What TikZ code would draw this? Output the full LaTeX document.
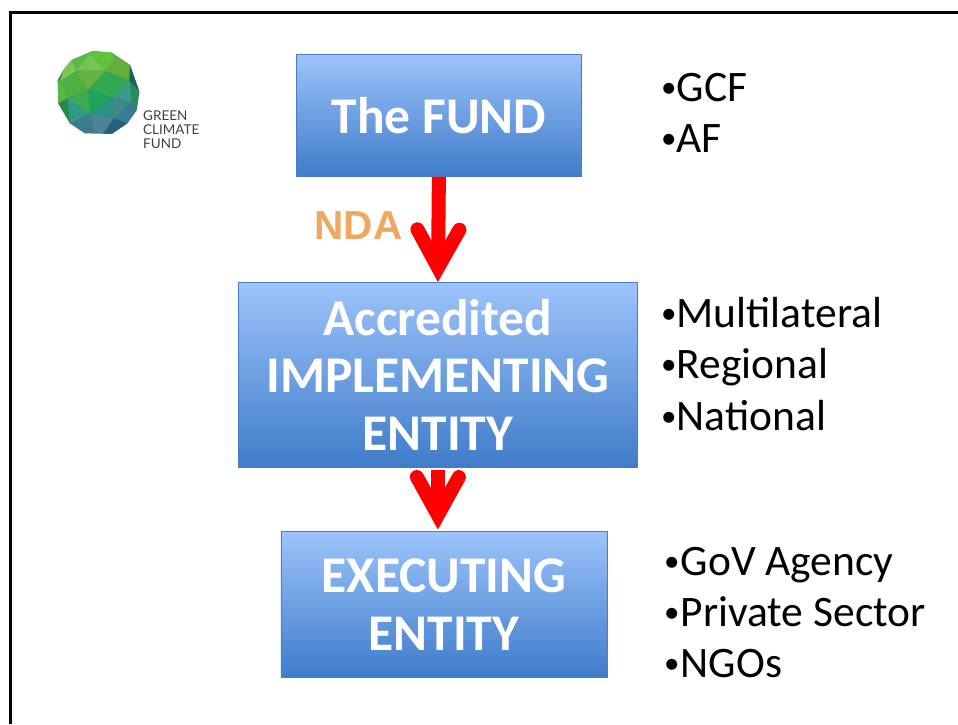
\documentclass[tikz,border=0pt]{standalone}
\usepackage{fontspec}
\setmainfont{Carlito}
\newfontfamily\ndafont{Liberation Sans}
\newfontfamily\logofont{Lato}
\usetikzlibrary{arrows.meta}
\definecolor{boxtop}{HTML}{9DC3FB}
\definecolor{boxbot}{HTML}{3F7CC9}
\definecolor{boxline}{HTML}{4A7EBB}
\tikzset{
 fundbox/.style={rectangle,draw=boxline,line width=0.8pt,top color=boxtop,bottom color=boxbot,
   text=white,font=\bfseries\fontsize{51.5}{57.5}\selectfont,align=center,inner sep=0pt,anchor=north west},
 redarrow/.style={draw=red,line width=14pt,-{Straight Barb[length=38pt,width=42pt,line cap=round,line join=miter,line width=14pt]}},
 bullet/.style={anchor=base west,inner sep=0pt,font=\fontsize{43.5}{48}\selectfont,text=black}
}
\newcommand{\fct}[2]{\definecolor{fc}{HTML}{#1}\fill[fc] #2 -- cycle;}
\newcommand{\bul}[1]{\makebox[#1][l]{\raisebox{3.5pt}{\fontsize{31}{31}\selectfont •}}}
\begin{document}
\begin{tikzpicture}[x=1pt,y=-1pt]
\useasboundingbox (0,0) rectangle (958,724);
\fill[white] (0,0) rectangle (958,724);
\draw[black,line width=3pt] (10,724) -- (10,12) -- (958,12);
% logo
\begin{scope}[shift={(40,30)},x=0.3333pt,y=-0.3333pt]
\fct{3A8A6A}{(158,63)--(215,68)--(270,105)--(298,185)--(290,240)--(262,280)--(215,312)--(135,310)--(90,280)--(55,220)--(53,150)--(70,120)--(95,90)}
\fct{58B947}{(95,90)--(158,63)--(150,72)--(110,122)}
\fct{76C551}{(150,72)--(110,122)--(197,122)}
\fct{60C13B}{(158,63)--(215,68)--(225,85)--(197,122)--(150,72)}
\fct{62AE3E}{(215,68)--(270,105)--(268,152)--(197,122)--(225,85)}
\fct{0C6A55}{(270,105)--(298,185)--(268,152)}
\fct{78C653}{(70,120)--(95,90)--(110,122)--(60,155)}
\fct{4FB043}{(60,155)--(110,122)--(145,178)--(82,205)}
\fct{68B23F}{(110,122)--(197,122)--(145,178)}
\fct{31A94F}{(197,122)--(268,152)--(218,202)--(145,178)}
\fct{5EB644}{(53,150)--(60,155)--(82,205)--(55,220)}
\fct{3FA852}{(82,205)--(145,178)--(150,252)}
\fct{1FA35A}{(145,178)--(218,202)--(150,252)}
\fct{3B9B8F}{(268,152)--(275,215)--(218,202)}
\fct{2B8A5A}{(268,152)--(298,185)--(290,240)--(275,215)}
\fct{278A3E}{(82,205)--(55,220)--(90,280)}
\fct{2F9A86}{(82,205)--(150,252)--(90,280)}
\fct{2B9283}{(218,202)--(150,252)--(222,265)}
\fct{3F8A86}{(218,202)--(275,215)--(222,265)}
\fct{3A7A94}{(275,215)--(290,240)--(262,280)--(222,265)}
\fct{3C7A90}{(90,280)--(150,252)--(165,305)--(135,310)}
\fct{4A8496}{(150,252)--(222,265)--(190,310)--(165,305)}
\fct{25607F}{(222,265)--(262,280)--(215,312)--(190,310)}
\end{scope}
\node[anchor=north west,inner sep=0pt,font=\logofont\fontsize{13.5}{14}\selectfont,text=black!75,align=left] (logotext) at (143,110.5) {GREEN\\CLIMATE\\FUND};
% boxes
\node[fundbox,minimum width=285pt,minimum height=122pt] (fund) at (296,54) {The FUND};
\node[fundbox,minimum width=399pt,minimum height=185pt] (impl) at (238,282) {Accredited\\IMPLEMENTING\\ENTITY};
\node[fundbox,minimum width=326pt,minimum height=146pt] (exec) at (280.5,531) {EXECUTING\\ENTITY};
% arrows
\draw[redarrow] (fund.south) -- (impl.north);
\draw[redarrow,shorten <=2pt,shorten >=1.5pt] (impl.south) -- (impl.south |- exec.north);
\node[inner sep=0pt,font=\ndafont\bfseries\fontsize{40.5}{42}\selectfont,text={rgb,255:red,240;green,168;blue,96}] (nda) at (358.5,225.5) {NDA};
% lists
\node[bullet] (l1) at (661,101) {\bul{15.5pt}GCF};
\node[bullet] (l2) at (661,152) {\bul{15.5pt}AF};
\node[bullet] (l3) at (661,327) {\bul{15.5pt}Multilateral};
\node[bullet] (l4) at (661,378) {\bul{15.5pt}Regional};
\node[bullet] (l5) at (661,430) {\bul{15.5pt}National};
\node[bullet] (l6) at (664,575) {\bul{16.5pt}GoV Agency};
\node[bullet] (l7) at (664,626) {\bul{16.5pt}Private Sector};
\node[bullet] (l8) at (664,677) {\bul{16.5pt}NGOs};
\end{tikzpicture}
\end{document}
